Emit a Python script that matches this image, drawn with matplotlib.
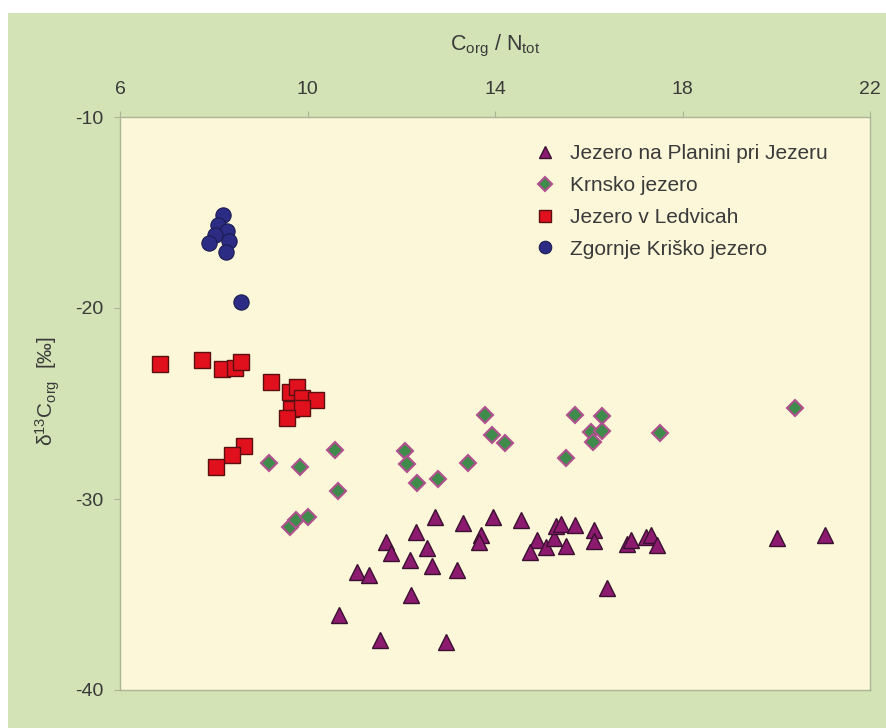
import matplotlib
matplotlib.use("Agg")
import matplotlib.pyplot as plt
from matplotlib.patches import Rectangle
from matplotlib.lines import Line2D

plt.rcParams['font.family'] = ['Liberation Sans', 'DejaVu Sans']
plt.rcParams['mathtext.fontset'] = 'custom'
plt.rcParams['mathtext.rm'] = 'Liberation Sans'
plt.rcParams['mathtext.it'] = 'Liberation Sans:italic'
plt.rcParams['axes.unicode_minus'] = False

# Jezero na Planini pri Jezeru (triangles)
planina_x = [12.72, 12.31, 11.67, 11.78, 12.18, 12.55, 12.65, 13.19, 11.05, 11.31,
             12.20, 10.67, 11.54, 12.95, 13.31, 13.95, 14.55, 13.70, 13.65, 14.89,
             14.74, 15.08, 15.25, 15.30, 15.40, 15.70, 15.51, 16.11, 16.11, 16.81,
             16.90, 17.22, 17.32, 17.45, 16.40, 20.01, 21.05]
planina_y = [-30.94, -31.73, -32.25, -32.83, -33.19, -32.57, -33.51, -33.72, -33.82, -33.98,
             -35.03, -36.07, -37.38, -37.49, -31.26, -30.94, -31.10, -31.88, -32.25, -32.15,
             -32.77, -32.51, -32.04, -31.41, -31.31, -31.36, -32.46, -31.62, -32.20, -32.36,
             -32.15, -31.99, -31.88, -32.41, -34.66, -32.04, -31.88]

# Krnsko jezero (diamonds)
krnsko_x = [9.18, 9.84, 10.58, 10.65, 9.62, 9.75, 10.01, 12.08, 12.12, 12.33,
            12.78, 13.42, 13.78, 13.93, 14.21, 15.51, 15.70, 16.28, 16.04, 16.28,
            16.09, 17.51, 20.41]
krnsko_y = [-28.12, -28.32, -27.43, -29.58, -31.47, -31.10, -30.94, -27.49, -28.17, -29.16,
            -28.95, -28.12, -25.60, -26.65, -27.07, -27.85, -25.60, -25.65, -26.49, -26.44,
            -27.02, -26.54, -25.24]

# Jezero v Ledvicah (squares)
ledvice_x = [6.85, 7.75, 8.17, 8.45, 8.58, 9.22, 9.62, 9.77, 9.88, 10.18,
             9.65, 9.88, 9.56, 8.64, 8.39, 8.05]
ledvice_y = [-22.93, -22.72, -23.19, -23.14, -22.83, -23.87, -24.40, -24.14, -24.71, -24.82,
             -25.29, -25.24, -25.76, -27.20, -27.70, -28.30]

# Zgornje Kriško jezero (circles)
krisko_x = [8.20, 8.09, 8.28, 8.03, 7.90, 8.32, 8.26, 8.58]
krisko_y = [-15.13, -15.65, -15.97, -16.20, -16.60, -16.50, -17.07, -19.70]

labels = ['Jezero na Planini pri Jezeru', 'Krnsko jezero',
          'Jezero v Ledvicah', 'Zgornje Kriško jezero']
xticks = [6, 10, 14, 18, 22]
yticks = [-10, -20, -30, -40]

W, H = 887, 728
fig = plt.figure(figsize=(W / 100, H / 100), dpi=100)
fig.patch.set_facecolor('white')
fig.patches.append(Rectangle((8 / W, 0), 1 - 8 / W, 1 - 13 / H, transform=fig.transFigure,
                             facecolor='#d3e3b5', edgecolor='none', zorder=-10))

ax = fig.add_axes([120 / W, 1 - 690 / H, (870 - 120) / W, (690 - 117) / H])
ax.set_facecolor('#fcf7d9')
ax.set_xlim(6, 22)
ax.set_ylim(-40, -10)

text_col = '#3a3a3a'
ax.xaxis.tick_top()
ax.xaxis.set_label_position('top')
ax.set_xticks(xticks)
ax.set_yticks(yticks)
ax.tick_params(axis='both', direction='out', length=4, width=0.8, color='#aab596',
               labelsize=14, labelcolor=text_col)
ax.tick_params(axis='x', pad=10)
ax.tick_params(axis='y', pad=8)
for s in ax.spines.values():
    s.set_color('#aab596')
    s.set_linewidth(1.0)

ax.set_xlabel(r'C$_{\mathrm{org}}$ / N$_{\mathrm{tot}}$', fontsize=15.5, color=text_col,
              labelpad=22)
ax.set_ylabel(r'δ$^{13}$C$_{\mathrm{org}}$  [‰]', fontsize=15, color=text_col,
              va='center')
ax.yaxis.set_label_coords(48 / W, 1 - 391 / H, transform=fig.transFigure)

ax.plot(planina_x, planina_y, linestyle='none', marker='^', ms=11, mfc='#8c1a6e',
        mec='#3a1030', mew=1.0, zorder=3)
ax.plot(krnsko_x, krnsko_y, linestyle='none', marker='D', ms=8, mfc='#3f8b4c',
        mec='#b0508e', mew=1.5, zorder=3)
ax.plot(ledvice_x, ledvice_y, linestyle='none', marker='s', ms=11, mfc='#e0101c',
        mec='#5a1010', mew=1.0, zorder=4)
ax.plot(krisko_x, krisko_y, linestyle='none', marker='o', ms=11, mfc='#2c2c84',
        mec='#1c1c50', mew=0.8, zorder=4)

handles = [
    Line2D([], [], linestyle='none', marker='^', ms=9, mfc='#8c1a6e', mec='#3a1030', mew=1.0),
    Line2D([], [], linestyle='none', marker='D', ms=7, mfc='#3f8b4c', mec='#b0508e', mew=1.5),
    Line2D([], [], linestyle='none', marker='s', ms=9, mfc='#e0101c', mec='#5a1010', mew=1.0),
    Line2D([], [], linestyle='none', marker='o', ms=9, mfc='#2c2c84', mec='#1c1c50', mew=0.8),
]
leg = ax.legend(handles, labels, loc='upper left',
                bbox_to_anchor=((532 - 120) / 750, (690 - 144) / 573),
                frameon=False, fontsize=15, labelspacing=0.62, handletextpad=0.6,
                handlelength=1.2, borderpad=0, borderaxespad=0)
for t in leg.get_texts():
    t.set_color(text_col)

fig.savefig('out.png', dpi=100)
